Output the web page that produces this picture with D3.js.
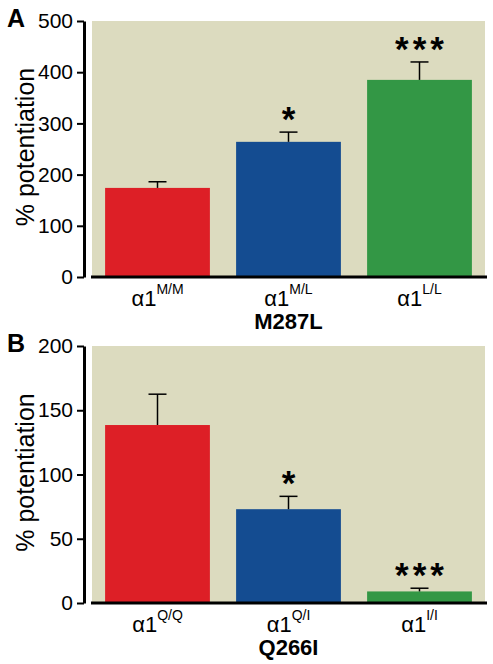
<!DOCTYPE html>
<html><head><meta charset="utf-8">
<script src="https://cdn.jsdelivr.net/npm/d3@7"></script>
<style>body{margin:0;background:#fff}svg{display:block;font-family:Arial,"Liberation Sans",sans-serif}</style>
</head><body><svg id="c" width="493" height="664"></svg>
<script>
const catsA = ["M/M","M/L","L/L"];
const valsA = [174, 264, 385];
const errA = [12, 19, 35];
const sigA = ["", "*", "***"];
const ticksA = [0,100,200,300,400,500];
const titleA = "M287L";

const catsB = ["Q/Q","Q/I","I/I"];
const valsB = [138.5, 73, 9];
const errB = [24, 10, 2.5];
const sigB = ["", "*", "***"];
const ticksB = [0,50,100,150,200];
const titleB = "Q266I";

const colors = ["#dd1f26","#144c91","#339745"];
const svg = d3.select("#c");

function panel(letter, cats, vals, errs, sigs, ticks, title, top, bottom) {
  const g = svg.append("g");
  const x = d3.scaleBand().domain(cats).range([92,485]).paddingInner(0.2).paddingOuter(0.1);
  const y = d3.scaleLinear().domain([0, ticks[ticks.length-1]]).range([bottom, top]);
  g.append("rect").attr("x",92).attr("y",top).attr("width",393).attr("height",bottom-top).attr("fill","#dcdbbf");
  g.selectAll(".bar").data(vals).join("rect")
    .attr("x",(d,i)=>x(cats[i])).attr("width",x.bandwidth())
    .attr("y",d=>y(d)).attr("height",d=>bottom-y(d)).attr("fill",(d,i)=>colors[i]);
  vals.forEach((v,i)=>{
    const cx = x(cats[i]) + x.bandwidth()/2;
    const et = y(v+errs[i]);
    g.append("line").attr("x1",cx).attr("x2",cx).attr("y1",y(v)).attr("y2",et).attr("stroke","#000").attr("stroke-width",1.5);
    g.append("line").attr("x1",cx-9).attr("x2",cx+9).attr("y1",et).attr("y2",et).attr("stroke","#000").attr("stroke-width",1.5);
    if (sigs[i]) g.append("text").attr("x",cx+2).attr("y",et-1).attr("text-anchor","middle")
      .attr("font-size",35).attr("font-weight","bold").attr("letter-spacing",4)
      .text(sigs[i]);
    const t = g.append("text").attr("x",cx).attr("y",bottom+29).attr("text-anchor","middle").attr("font-size",22);
    t.append("tspan").text("\u03b11");
    t.append("tspan").attr("font-size",14).attr("dy",-12).text(cats[i]);
  });
  const ax = g.append("g").attr("transform","translate(84,0)")
    .call(d3.axisLeft(y).tickValues(ticks).tickSize(7).tickSizeOuter(0).tickPadding(4));
  ax.select(".domain").attr("stroke-width",3).attr("stroke","#000");
  ax.selectAll(".tick line").attr("stroke-width",2).attr("stroke","#000");
  ax.selectAll(".tick text").attr("font-size",21).attr("font-family","Arial, 'Liberation Sans', sans-serif").attr("fill","#000");
  g.append("line").attr("x1",91).attr("x2",487).attr("y1",bottom).attr("y2",bottom).attr("stroke","#000").attr("stroke-width",3);
  g.append("text").attr("x",x(cats[1])+x.bandwidth()/2).attr("y",bottom+52).attr("text-anchor","middle")
    .attr("font-size",22).attr("font-weight","bold").text(title);
  g.append("text").attr("transform",`translate(34,${(top+bottom)/2 - 2}) rotate(-90)`).attr("text-anchor","middle")
    .attr("font-size",25).text("% potentiation");
  g.append("text").attr("x",7).attr("y",top+6).attr("font-size",25).attr("font-weight","bold").text(letter);
}
panel("A", catsA, valsA, errA, sigA, ticksA, titleA, 21, 277);
panel("B", catsB, valsB, errB, sigB, ticksB, titleB, 346, 603);
</script></body></html>
